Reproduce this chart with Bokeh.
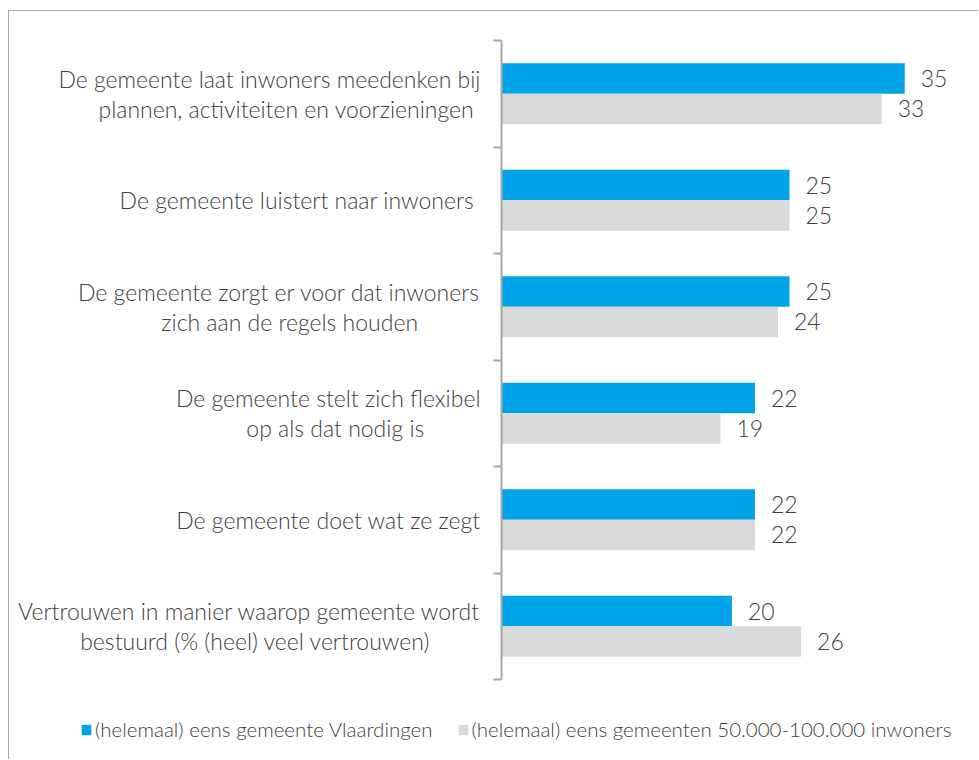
from bokeh.plotting import figure
from bokeh.layouts import column
from bokeh.models import ColumnDataSource, Range1d, FixedTicker, Legend, LegendItem
from bokeh.core.properties import value
from bokeh.embed import file_html
from bokeh.resources import INLINE

NB = "\u00a0"
categories = [
    "De gemeente laat inwoners meedenken bij\nplannen, activiteiten en voorzieningen" + NB * 1,
    "De gemeente luistert naar  inwoners",
    "De gemeente zorgt er voor dat inwoners\nzich aan de regels houden" + NB * 10,
    "De gemeente stelt zich flexibel\nop als dat nodig is" + NB * 9,
    "De gemeente doet wat ze zegt",
    "Vertrouwen in manier waarop gemeente wordt\nbestuurd (% (heel) veel vertrouwen)" + NB * 8,
]
vlaardingen = [35, 25, 25, 22, 22, 20]
referentie = [33, 25, 24, 19, 22, 26]
series_names = [
    "(helemaal) eens gemeente Vlaardingen",
    "(helemaal) eens gemeenten 50.000-100.000 inwoners",
]

BLUE = "#00A2E8"
GREY = "#D9D9D9"
TEXT = "#404040"
AXIS = "#A6A6A6"
FONT = "Lato Light"

n = len(categories)
centers = [n - i - 0.5 for i in range(n)]
off = 0.143
bh = 0.286

src_a = ColumnDataSource(dict(y=[c + off for c in centers], v=vlaardingen,
                              t=[str(v) for v in vlaardingen]))
src_b = ColumnDataSource(dict(y=[c - off for c in centers], v=referentie,
                              t=[str(v) for v in referentie]))

p = figure(width=970, height=690, output_backend="svg", toolbar_location=None,
           x_range=Range1d(0, 41.49), y_range=Range1d(0, n),
           x_axis_location=None,
           min_border_left=492, min_border_right=0, min_border_top=29,
           min_border_bottom=22)
p.frame_align = False
p.outline_line_color = None
p.grid.visible = False
p.styles = {"margin-left": "8px", "margin-top": "10px",
            "border-left": "1px solid #A6A6A6", "border-top": "1px solid #A6A6A6"}

r_a = p.hbar(y="y", right="v", left=0, height=bh, source=src_a, color=BLUE, line_color=None)
r_b = p.hbar(y="y", right="v", left=0, height=bh, source=src_b, color=GREY, line_color=None)

for s in (src_a, src_b):
    p.text(x="v", y="y", text="t", source=s, x_offset=16, text_baseline="middle",
           text_align="left", text_font=value(FONT), text_font_size="23px",
           text_color=TEXT)

ya = p.yaxis[0]
ya.ticker = FixedTicker(ticks=centers, minor_ticks=list(range(n + 1)))
ya.major_label_overrides = {c: lab for c, lab in zip(centers, categories)}
ya.major_tick_line_color = None
ya.major_tick_out = 0
ya.major_tick_in = 0
ya.minor_tick_out = 8
ya.minor_tick_in = 0
ya.minor_tick_line_color = AXIS
ya.minor_tick_line_width = 2
ya.axis_line_color = AXIS
ya.axis_line_width = 2
ya.major_label_standoff = 13
ya.major_label_text_font = FONT
ya.major_label_text_font_size = "23px"
ya.major_label_text_color = TEXT
ya.major_label_text_line_height = 1.07

# legend strip below the chart (its renderers lie outside its visible ranges)
pl = figure(width=970, height=59, output_backend="svg", toolbar_location=None,
            x_axis_location=None, y_axis_location=None,
            min_border=0, x_range=Range1d(-20, -10), y_range=Range1d(-20, -10))
pl.frame_align = False
pl.outline_line_color = None
pl.grid.visible = False
pl.styles = {"margin-left": "8px", "border-left": "1px solid #A6A6A6"}
la = pl.hbar(y="y", right="v", left=0, height=bh, source=src_a, color=BLUE, line_color=None)
lb = pl.hbar(y="y", right="v", left=0, height=bh, source=src_b, color=GREY, line_color=None)
legend = Legend(items=[LegendItem(label=series_names[0], renderers=[la]),
                       LegendItem(label=series_names[1], renderers=[lb])],
                orientation="horizontal", location=(71, 18),
                padding=0, margin=0, spacing=24, label_standoff=3,
                glyph_width=12, glyph_height=13,
                border_line_color=None, background_fill_alpha=0,
                label_text_font=FONT, label_text_font_size="20.5px",
                label_text_color=TEXT)
pl.add_layout(legend, "center")

layout = column(p, pl, spacing=0)

open("out.html", "w").write(file_html(layout, INLINE))
